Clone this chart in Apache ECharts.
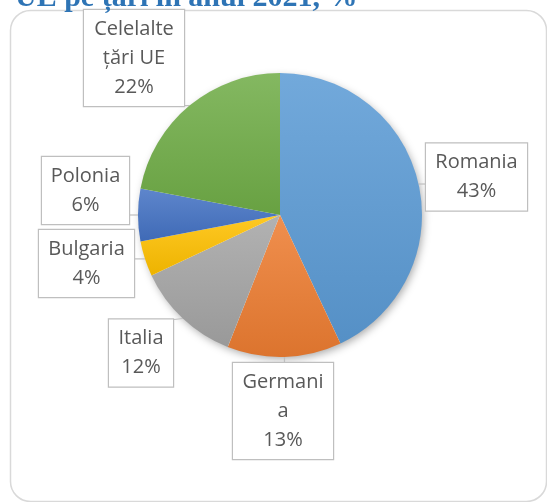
<!DOCTYPE html>
<html>
<head>
<meta charset="utf-8">
<script src="https://cdn.jsdelivr.net/npm/echarts@6/dist/echarts.min.js"></script>
<style>
html,body{margin:0;padding:0;background:#fff;}
#chart{width:547px;height:502px;}
</style>
</head>
<body>
<div id="chart"></div>
<script>
// ---- data ----
var categories = ['Romania', 'Germania', 'Italia', 'Bulgaria', 'Polonia', 'Celelalte țări UE'];
var values = [43, 13, 12, 4, 6, 22];
var labelTexts = ['Romania', 'Germani\na', 'Italia', 'Bulgaria', 'Polonia', 'Celelalte\nțări UE'];
var titleText = 'UE pe țări în anul 2021, %';

// ---- styling / layout ----
var baseColors = ['#5B9BD5', '#ED7D31', '#A5A5A5', '#FFC000', '#4472C4', '#70AD47'];
var PIE_CENTER = [280, 215], PIE_R = 142;
// label box centres and widths (layout only)
var labelBoxes = [
  {cx: 476.5, cy: 177, w: 103},
  {cx: 283, cy: 411, w: 102},
  {cx: 141, cy: 353, w: 66},
  {cx: 86.5, cy: 263.5, w: 97},
  {cx: 85.5, cy: 190.5, w: 89},
  {cx: 134, cy: 58, w: 102}
];
var LINE_H = 29, PAD_V = 4.5;

function mix(hex, target, t) {
  var n = parseInt(hex.slice(1), 16);
  var r = (n >> 16) & 255, g = (n >> 8) & 255, b = n & 255;
  r = Math.round(r + (target - r) * t);
  g = Math.round(g + (target - g) * t);
  b = Math.round(b + (target - b) * t);
  return 'rgb(' + r + ',' + g + ',' + b + ')';
}

var chart = echarts.init(document.getElementById('chart'), null, {renderer: 'canvas'});

var seriesData = categories.map(function (name, i) {
  return {
    name: name,
    value: values[i],
    itemStyle: {
      color: new echarts.graphic.LinearGradient(0, 0, 0, 1, [
        {offset: 0, color: mix(baseColors[i], 255, 0.14)},
        {offset: 1, color: mix(baseColors[i], 0, 0.07)}
      ])
    },
    label: {width: labelBoxes[i].w - 2}
  };
});

function boxRect(i) {
  var b = labelBoxes[i];
  var lines = labelTexts[i].split('\n').length + 1;
  var h = lines * LINE_H + 2 * PAD_V;
  return {x: b.cx - b.w / 2, y: b.cy - h / 2, w: b.w, h: h};
}

var option = {
  backgroundColor: '#ffffff',
  animation: false,
  graphic: [
    {
      type: 'rect', z: 0, silent: true,
      shape: {x: 10.5, y: 10.5, width: 536, height: 491, r: 20},
      style: {fill: 'none', stroke: '#d9d9d9', lineWidth: 1.5}
    },
    {
      // soft drop shadow under the pie
      type: 'circle', z: 0, silent: true,
      shape: {cx: PIE_CENTER[0], cy: PIE_CENTER[1], r: PIE_R - 1},
      style: {
        fill: '#ffffff',
        shadowBlur: 9,
        shadowOffsetX: 2,
        shadowOffsetY: 3,
        shadowColor: 'rgba(0,0,0,0.35)'
      }
    },
    {
      type: 'text', z: 10, silent: true,
      x: 15, y: -17,
      style: {
        text: titleText,
        fill: '#2E74B5',
        font: 'bold 30px "Liberation Serif", "Times New Roman", serif',
        verticalAlign: 'top'
      }
    }
  ],
  series: [{
    type: 'pie',
    center: PIE_CENTER,
    radius: PIE_R,
    startAngle: 90,
    clockwise: true,
    avoidLabelOverlap: false,
    label: {
      show: true,
      position: 'outside',
      formatter: function (p) {
        return labelTexts[p.dataIndex] + '\n' + Math.round(p.percent) + '%';
      },
      fontFamily: '"Open Sans", sans-serif',
      fontSize: 20,
      lineHeight: LINE_H,
      color: '#595959',
      align: 'center',
      backgroundColor: '#ffffff',
      borderColor: '#bfbfbf',
      borderWidth: 1.2,
      padding: [PAD_V, 0]
    },
    labelLine: {
      show: true,
      lineStyle: {color: '#bfbfbf', width: 1.2}
    },
    labelLayout: function (params) {
      var i = params.dataIndex;
      var b = labelBoxes[i];
      var r = boxRect(i);
      var pts = params.labelLinePoints;
      var edge = pts && pts[0] ? pts[0] : [b.cx, b.cy];
      var ax = Math.min(Math.max(edge[0], r.x), r.x + r.w);
      var ay = Math.min(Math.max(edge[1], r.y), r.y + r.h);
      return {
        x: b.cx,
        y: b.cy,
        align: 'center',
        verticalAlign: 'middle',
        labelLinePoints: [edge, [ax, ay], [ax, ay]]
      };
    },
    data: seriesData
  }]
};

chart.setOption(option);
</script>
</body>
</html>
